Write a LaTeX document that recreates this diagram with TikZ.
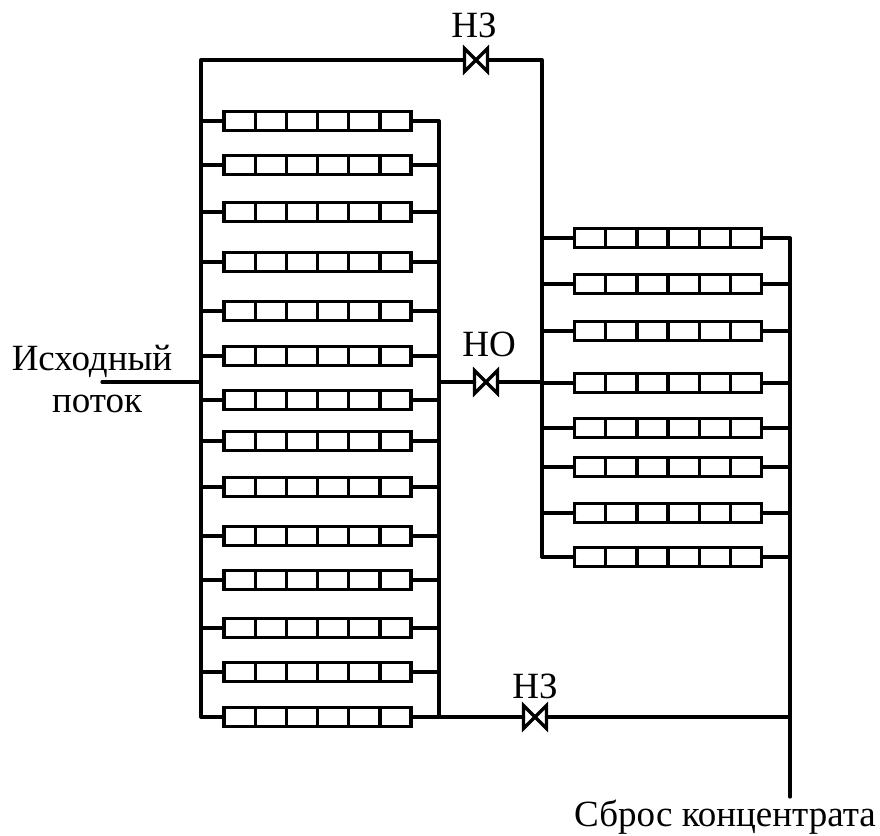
\documentclass[tikz,border=0pt]{standalone}
\usepackage{fontspec}
\setmainfont{Liberation Serif}
\tikzset{
  pipe/.style={line width=3.3pt,draw=black,line cap=round,line join=round},
  module/.style={rectangle,draw=black,line width=3.3pt,fill=white,minimum width=187pt,minimum height=19pt,inner sep=0pt,outer sep=0pt,
    path picture={\foreach \k in {1,...,5}{\draw[line width=3.3pt] ([xshift=\k*31.2pt]path picture bounding box.south west) -- ([xshift=\k*31.2pt]path picture bounding box.north west);}}},
  valve/.style={rectangle,minimum width=23pt,minimum height=23pt,inner sep=0pt,outer sep=0pt},
  lbl/.style={font=\fontsize{37}{37}\selectfont,text=black,inner sep=0pt,anchor=base}
}
\begin{document}
\begin{tikzpicture}[x=1pt,y=-1pt]
\fill[white] (0,0) rectangle (880,835);
\useasboundingbox (0,0) rectangle (880,835);
% bus end points
\coordinate (feedL) at (102,382);
\coordinate (feedB) at (201,382);
\coordinate (busTop) at (201,60);
\coordinate (busBot) at (201,717);
\coordinate (colTop) at (439,121);
\coordinate (colBot) at (439,717);
\coordinate (corner) at (542,60);
\coordinate (rBusBot) at (542,557);
\coordinate (rBusMid) at (542,382);
\coordinate (rColTop) at (790,238);
\coordinate (rColBot) at (790,717);
\coordinate (outlet) at (790,797);
\coordinate (colMid) at (439,382);
% valves
\node[valve] (V1) at (476,60) {};
\node[valve] (V2) at (486,382) {};
\node[valve] (V3) at (535,717) {};
% pipes
\draw[pipe] (feedL) -- (feedB);
\draw[pipe] (busBot) -- (busTop) -- (V1.west);
\draw[pipe] (V1.east) -- (corner) -- (rBusBot);
\draw[pipe] (colTop) -- (colBot) -- (V3.west);
\draw[pipe] (V3.east) -- (rColBot);
\draw[pipe] (colMid) -- (V2.west);
\draw[pipe] (V2.east) -- (rBusMid);
\draw[pipe] (rColTop) -- (outlet);
% modules, left bank
\foreach \i/\y in {1/121,2/165,3/212,4/262,5/311,6/356,7/400,8/441,9/487,10/536,11/580,12/628,13/672,14/717}{
  \node[module] (L\i) at (317.5,\y) {};
  \coordinate (La\i) at (201,\y);
  \coordinate (Lb\i) at (439,\y);
  \draw[pipe] (La\i) -- (L\i.west);
  \draw[pipe] (L\i.east) -- (Lb\i);
}
% modules, right bank
\foreach \i/\y in {1/238,2/284,3/331,4/383,5/428,6/467,7/513,8/557}{
  \node[module] (R\i) at (668,\y) {};
  \coordinate (Ra\i) at (542,\y);
  \coordinate (Rb\i) at (790,\y);
  \draw[pipe] (Ra\i) -- (R\i.west);
  \draw[pipe] (R\i.east) -- (Rb\i);
}
% valve bodies
\foreach \v in {V1,V2,V3}{
  \draw[pipe,line join=miter] (\v.north west) -- (\v.south east) -- (\v.north east) -- (\v.south west) -- cycle;
}
% labels
\node[lbl] (t1) at (474,37) {НЗ};
\node[lbl] (t2) at (489,356) {НО};
\node[lbl] (t3) at (535,698) {НЗ};
\node[lbl] (t4) at (92,370) {Исходный};
\node[lbl] (t5) at (97,412) {поток};
\node[lbl] (t6) at (725,826) {Сброс концентрата};
\end{tikzpicture}
\end{document}
